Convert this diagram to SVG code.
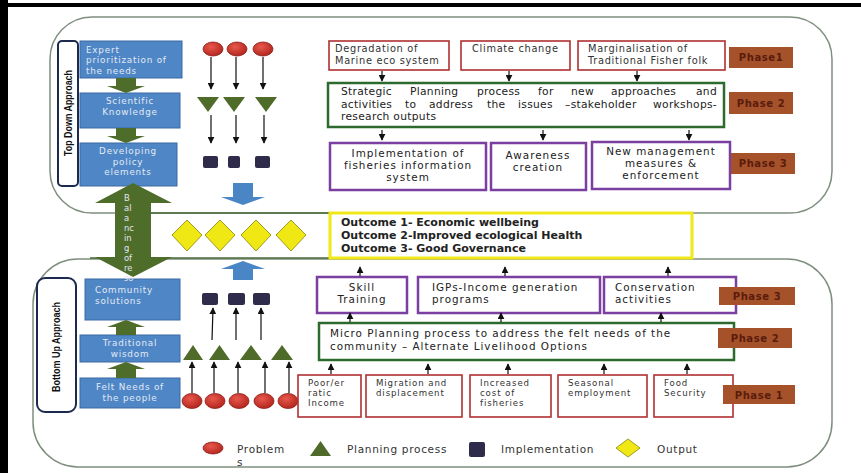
<svg xmlns="http://www.w3.org/2000/svg" width="861" height="473" viewBox="0 0 861 473">
<defs>
<marker id="ah" viewBox="0 0 10 10" refX="9" refY="5" markerWidth="7" markerHeight="7" markerUnits="userSpaceOnUse" orient="auto"><path d="M0,0 L10,5 L0,10 z" fill="#111"/></marker>
<radialGradient id="rg" cx="0.4" cy="0.35" r="0.7"><stop offset="0" stop-color="#e8584c"/><stop offset="1" stop-color="#b0221c"/></radialGradient>
<style>
text{font-family:"DejaVu Sans","Liberation Sans",sans-serif}
.panel{fill:none;stroke:#7f8f7f;stroke-width:1.5}
.blue{fill:#4f86c6;stroke:#3b6aa3;stroke-width:1}
.bt{font-size:8.8px;letter-spacing:0.8px;fill:#e2eaf5}
.garrow{fill:#4f6d2a}
.prob{fill:url(#rg);stroke:#8a1e18;stroke-width:0.8}
.tri{fill:#4f6b2a}
.impl{fill:#2e2c4a}
.dia{fill:#f0e814;stroke:#a09a20;stroke-width:1}
.blarrow{fill:#4a86c6}
.ar{stroke:#111;stroke-width:1.2;fill:none;marker-end:url(#ah)}
.rbox{fill:#fff;stroke:#b03030;stroke-width:1.6}
.gbox{fill:#fff;stroke:#2d6a2d;stroke-width:2.5}
.pbox{fill:#fff;stroke:#7a3fa0;stroke-width:2.5}
.ph{fill:#a5512a}
.pht{font-size:10px;font-weight:bold;letter-spacing:0.6px;fill:#5a1c0c}
.t10{font-size:9.8px;letter-spacing:0.7px;fill:#333}
.t9{font-size:8.6px;letter-spacing:0.9px;fill:#333}
.t11{font-size:10.4px;letter-spacing:1px;fill:#222}
.ts{font-size:10.7px;letter-spacing:0.3px;fill:#222}
.tout{font-size:11px;font-weight:bold;fill:#222}
.vt{font-family:"Liberation Sans",sans-serif;font-size:11px;font-weight:bold;fill:#111}
.lbl{fill:#fff;stroke:#1c2a50;stroke-width:2}
.bal{font-size:8.4px;fill:#e4e4f0}
.leg{font-size:10.5px;letter-spacing:0.7px;fill:#333}
</style>
</defs>
<rect x="0" y="0" width="861" height="473" fill="#fff"/>
<rect x="0" y="0" width="8" height="473" fill="#000"/>
<rect x="0" y="3" width="861" height="4" fill="#000"/>

<g id="panels">
<rect class="panel" x="50" y="17" width="782" height="196" rx="42"/>
<rect class="panel" x="33" y="259" width="799" height="208" rx="45"/>
<line x1="130" y1="213" x2="330" y2="213" stroke="#4a6a3a" stroke-width="1.5"/>
<line x1="90" y1="258" x2="330" y2="258" stroke="#4a6a3a" stroke-width="1.5"/>
</g>

<g id="top-down-label">
<rect class="lbl" x="58" y="41" width="20" height="145" rx="4"/>
<text class="vt" transform="translate(72,113) rotate(-90)" text-anchor="middle" textLength="86" lengthAdjust="spacingAndGlyphs">Top Down Approach</text>
</g>
<g id="bottom-up-label">
<rect class="lbl" x="37" y="278" width="39" height="134" rx="8"/>
<text class="vt" transform="translate(60,347) rotate(-90)" text-anchor="middle" textLength="90" lengthAdjust="spacingAndGlyphs">Bottom Up Approach</text>
</g>

<g id="expert">
<rect class="blue" x="80" y="41" width="102" height="37"/>
<text class="bt" x="86" y="52.5">Expert</text>
<text class="bt" x="86" y="63">prioritization of</text>
<text class="bt" x="86" y="73.5">the needs</text>
</g>
<g id="scientific">
<rect class="blue" x="80" y="93" width="100" height="35"/>
<text class="bt" x="130" y="104" text-anchor="middle">Scientific</text>
<text class="bt" x="130" y="115" text-anchor="middle">Knowledge</text>
</g>
<g id="developing">
<rect class="blue" x="80" y="143" width="97" height="43"/>
<text class="bt" x="128" y="154" text-anchor="middle">Developing</text>
<text class="bt" x="128" y="164.5" text-anchor="middle">policy</text>
<text class="bt" x="128" y="175" text-anchor="middle">elements</text>
</g>
<g id="community">
<rect class="blue" x="85" y="279" width="95" height="41"/>
<text class="bt" x="95" y="293">Community</text>
<text class="bt" x="95" y="304">solutions</text>
</g>
<g id="traditional">
<rect class="blue" x="80" y="335" width="100" height="27"/>
<text class="bt" x="130" y="346" text-anchor="middle">Traditional</text>
<text class="bt" x="130" y="357" text-anchor="middle">wisdom</text>
</g>
<g id="felt">
<rect class="blue" x="80" y="378" width="100" height="30"/>
<text class="bt" x="130" y="389.5" text-anchor="middle">Felt Needs of</text>
<text class="bt" x="130" y="400.5" text-anchor="middle">the people</text>
</g>

<g id="block-arrows">
<polygon class="garrow" points="116,78 136,78 136,86 145,86 126,93 107,86 116,86"/>
<polygon class="garrow" points="116,128 136,128 136,136 145,136 126,143 107,136 116,136"/>
<polygon class="garrow" points="116,335 136,335 136,327 145,327 126,320 107,327 116,327"/>
<polygon class="garrow" points="116,378 136,378 136,369 145,369 126,362 107,369 116,369"/>
<polygon class="garrow" points="133,183 172,203 151,203 151,257 172,257 133,277 95,257 115,257 115,203 95,203"/>
<polygon class="blarrow" points="233,183 253,183 253,197 265,197 243,205 221,197 233,197"/>
<polygon class="blarrow" points="233,280 253,280 253,269 265,269 243,261 221,269 233,269"/>
</g>
<g id="balancing-text">
<text class="bal" x="124" y="201">B</text>
<text class="bal" x="124" y="211">al</text>
<text class="bal" x="124" y="221">a</text>
<text class="bal" x="124" y="231">nc</text>
<text class="bal" x="124" y="241">in</text>
<text class="bal" x="124" y="251">g</text>
<text class="bal" x="124" y="261">of</text>
<text class="bal" x="124" y="271">re</text>
<text class="bal" x="124" y="281" fill="#9aa0c0">so</text>
</g>

<g id="top-symbols">
<ellipse class="prob" cx="213" cy="49" rx="10" ry="7"/>
<ellipse class="prob" cx="237" cy="49" rx="10" ry="7"/>
<ellipse class="prob" cx="263" cy="49" rx="10" ry="7"/>
<polygon class="tri" points="197,97 219,97 208,112"/>
<polygon class="tri" points="223,97 245,97 234,112"/>
<polygon class="tri" points="255,97 277,97 266,112"/>
<rect class="impl" x="203" y="156" width="15" height="12" rx="2"/>
<rect class="impl" x="228" y="156" width="12" height="12" rx="2"/>
<rect class="impl" x="255" y="156" width="15" height="12" rx="2"/>
</g>
<g id="bottom-symbols">
<ellipse class="prob" cx="192" cy="401" rx="10" ry="7.5"/>
<ellipse class="prob" cx="215" cy="401" rx="10" ry="7.5"/>
<ellipse class="prob" cx="239" cy="401" rx="10" ry="7.5"/>
<ellipse class="prob" cx="264" cy="401" rx="10" ry="7.5"/>
<ellipse class="prob" cx="288" cy="401" rx="10" ry="7.5"/>
<polygon class="tri" points="183,360 203,360 193,345"/>
<polygon class="tri" points="209,360 230,360 219.5,345"/>
<polygon class="tri" points="240,360 262,360 251,345"/>
<polygon class="tri" points="271,360 293,360 282,345"/>
<rect class="impl" x="202" y="293" width="16" height="12" rx="2"/>
<rect class="impl" x="228" y="293" width="17" height="12" rx="2"/>
<rect class="impl" x="253" y="293" width="17" height="12" rx="2"/>
</g>
<g id="outputs">
<polygon class="dia" points="187,220 202,235 187,251 172,235"/>
<polygon class="dia" points="220,220 235,235 220,251 205,235"/>
<polygon class="dia" points="256,220 271,235 256,251 241,235"/>
<polygon class="dia" points="291,220 306,235 291,251 276,235"/>
</g>

<g id="outcome">
<rect x="330" y="213" width="362" height="45" fill="#fff" stroke="#f0e818" stroke-width="3"/>
<text class="tout" x="341" y="226">Outcome 1- Economic wellbeing</text>
<text class="tout" x="341" y="239">Outcome 2-Improved ecological Health</text>
<text class="tout" x="341" y="252">Outcome 3- Good Governance</text>
</g>

<g id="degradation">
<rect class="rbox" x="329" y="41" width="120" height="29"/>
<text class="t10" x="335" y="52">Degradation of</text>
<text class="t10" x="335" y="64">Marine eco system</text>
</g>
<g id="climate">
<rect class="rbox" x="461" y="41" width="109" height="29"/>
<text class="t10" x="472" y="52">Climate change</text>
</g>
<g id="marginalisation">
<rect class="rbox" x="578" y="41" width="147" height="29"/>
<text class="t10" x="588" y="52">Marginalisation of</text>
<text class="t10" x="588" y="64">Traditional Fisher folk</text>
</g>
<g id="phase1-top"><rect class="ph" x="729" y="47" width="64" height="21"/><text class="pht" x="761" y="61" text-anchor="middle">Phase1</text></g>

<g id="strategic">
<rect class="gbox" x="328" y="83" width="396" height="44"/>
<text class="ts" y="95"><tspan x="341">Strategic</tspan><tspan x="410">Planning</tspan><tspan x="477">process</tspan><tspan x="538">for</tspan><tspan x="571">new</tspan><tspan x="611">approaches</tspan><tspan x="717" text-anchor="end">and</tspan></text>
<text class="ts" y="107.5"><tspan x="341">activities</tspan><tspan x="405">to</tspan><tspan x="429">address</tspan><tspan x="487">the</tspan><tspan x="518">issues</tspan><tspan x="565">–stakeholder</tspan><tspan x="717" text-anchor="end">workshops-</tspan></text>
<text class="ts" x="341" y="120">research outputs</text>
</g>
<g id="phase2-top"><rect class="ph" x="729" y="92" width="64" height="22"/><text class="pht" x="761" y="107" text-anchor="middle">Phase 2</text></g>

<g id="implementation">
<rect class="pbox" x="330" y="143" width="156" height="47"/>
<text class="t11" x="408" y="157" text-anchor="middle">Implementation of</text>
<text class="t11" x="408" y="169" text-anchor="middle">fisheries information</text>
<text class="t11" x="408" y="181" text-anchor="middle">system</text>
</g>
<g id="awareness">
<rect class="pbox" x="491" y="143" width="95" height="47"/>
<text class="t11" x="538" y="159" text-anchor="middle">Awareness</text>
<text class="t11" x="538" y="171" text-anchor="middle">creation</text>
</g>
<g id="newmgmt">
<rect class="pbox" x="592" y="142" width="138" height="47"/>
<text class="t11" x="661" y="155" text-anchor="middle">New management</text>
<text class="t11" x="661" y="167" text-anchor="middle">measures &amp;</text>
<text class="t11" x="661" y="179" text-anchor="middle">enforcement</text>
</g>
<g id="phase3-top"><rect class="ph" x="731" y="153" width="64" height="21"/><text class="pht" x="763" y="167" text-anchor="middle">Phase 3</text></g>

<g id="skill">
<rect class="pbox" x="317" y="277" width="90" height="36"/>
<text class="t11" x="362" y="291" text-anchor="middle">Skill</text>
<text class="t11" x="362" y="303" text-anchor="middle">Training</text>
</g>
<g id="igps">
<rect class="pbox" x="418" y="277" width="182" height="36"/>
<text class="t11" x="432" y="291">IGPs-Income generation</text>
<text class="t11" x="432" y="303">programs</text>
</g>
<g id="conservation">
<rect class="pbox" x="604" y="277" width="132" height="36"/>
<text class="t11" x="615" y="291">Conservation</text>
<text class="t11" x="615" y="303">activities</text>
</g>
<g id="phase3-bottom"><rect class="ph" x="719" y="287" width="76" height="18"/><text class="pht" x="757" y="300" text-anchor="middle">Phase 3</text></g>

<g id="micro">
<rect class="gbox" x="319" y="323" width="415" height="37"/>
<text class="t11" x="330" y="337">Micro Planning process to address the felt needs of the</text>
<text class="t11" x="330" y="350">community – Alternate Livelihood Options</text>
</g>
<g id="phase2-bottom"><rect class="ph" x="718" y="328" width="74" height="20"/><text class="pht" x="755" y="342" text-anchor="middle">Phase 2</text></g>

<g id="poor">
<rect class="rbox" x="298" y="375" width="63" height="42"/>
<text class="t9" x="308" y="386">Poor/er</text>
<text class="t9" x="308" y="396">ratic</text>
<text class="t9" x="308" y="406">Income</text>
</g>
<g id="migration">
<rect class="rbox" x="366" y="375" width="96" height="42"/>
<text class="t9" x="376" y="386">Migration and</text>
<text class="t9" x="376" y="396">displacement</text>
</g>
<g id="increased">
<rect class="rbox" x="470" y="375" width="81" height="42"/>
<text class="t9" x="480" y="386">Increased</text>
<text class="t9" x="480" y="396">cost of</text>
<text class="t9" x="480" y="406">fisheries</text>
</g>
<g id="seasonal">
<rect class="rbox" x="558" y="375" width="89" height="42"/>
<text class="t9" x="568" y="386">Seasonal</text>
<text class="t9" x="568" y="396">employment</text>
</g>
<g id="food">
<rect class="rbox" x="654" y="375" width="79" height="42"/>
<text class="t9" x="664" y="386">Food</text>
<text class="t9" x="664" y="396">Security</text>
</g>
<g id="phase1-bottom"><rect class="ph" x="723" y="385" width="72" height="19"/><text class="pht" x="759" y="399" text-anchor="middle">Phase 1</text></g>

<g id="connectors">
<line class="ar" x1="211" y1="57" x2="211" y2="89"/>
<line class="ar" x1="236" y1="57" x2="236" y2="89"/>
<line class="ar" x1="263" y1="57" x2="263" y2="89"/>
<line class="ar" x1="211" y1="115" x2="211" y2="143"/>
<line class="ar" x1="236" y1="115" x2="236" y2="143"/>
<line class="ar" x1="264" y1="115" x2="264" y2="143"/>
<line class="ar" x1="192" y1="393" x2="192" y2="362"/>
<line class="ar" x1="214" y1="393" x2="214" y2="362"/>
<line class="ar" x1="238" y1="393" x2="238" y2="362"/>
<line class="ar" x1="265" y1="393" x2="265" y2="362"/>
<line class="ar" x1="289" y1="393" x2="289" y2="362"/>
<line class="ar" x1="212" y1="340" x2="213" y2="308"/>
<line class="ar" x1="236" y1="340" x2="236" y2="308"/>
<line class="ar" x1="261" y1="340" x2="261" y2="308"/>
<line class="ar" x1="382" y1="71" x2="382" y2="81"/>
<line class="ar" x1="509" y1="71" x2="509" y2="81"/>
<line class="ar" x1="637" y1="71" x2="637" y2="81"/>
<line class="ar" x1="382" y1="130" x2="382" y2="140"/>
<line class="ar" x1="543" y1="130" x2="543" y2="140"/>
<line class="ar" x1="689" y1="130" x2="689" y2="140"/>
<line class="ar" x1="360" y1="276" x2="360" y2="267"/>
<line class="ar" x1="505" y1="276" x2="505" y2="267"/>
<line class="ar" x1="668" y1="276" x2="668" y2="267"/>
<line class="ar" x1="350" y1="322" x2="350" y2="313"/>
<line class="ar" x1="501" y1="322" x2="501" y2="313"/>
<line class="ar" x1="661" y1="322" x2="661" y2="313"/>
<line class="ar" x1="331" y1="374" x2="331" y2="364"/>
<line class="ar" x1="428" y1="374" x2="428" y2="364"/>
<line class="ar" x1="508" y1="374" x2="508" y2="364"/>
<line class="ar" x1="604" y1="374" x2="604" y2="364"/>
<line class="ar" x1="687" y1="374" x2="687" y2="364"/>
</g>

<g id="legend">
<ellipse class="prob" cx="213" cy="448" rx="10" ry="6"/>
<text class="leg" x="237" y="453">Problem</text>
<text class="leg" x="237" y="466">s</text>
<polygon class="tri" points="310,456 331,456 320.5,441"/>
<text class="leg" x="347" y="453">Planning process</text>
<rect class="impl" x="469" y="442" width="16" height="15" rx="2"/>
<text class="leg" x="501" y="453">Implementation</text>
<polygon class="dia" points="628,439 640,448 628,457 616,448"/>
<text class="leg" x="657" y="453">Output</text>
</g>
</svg>
